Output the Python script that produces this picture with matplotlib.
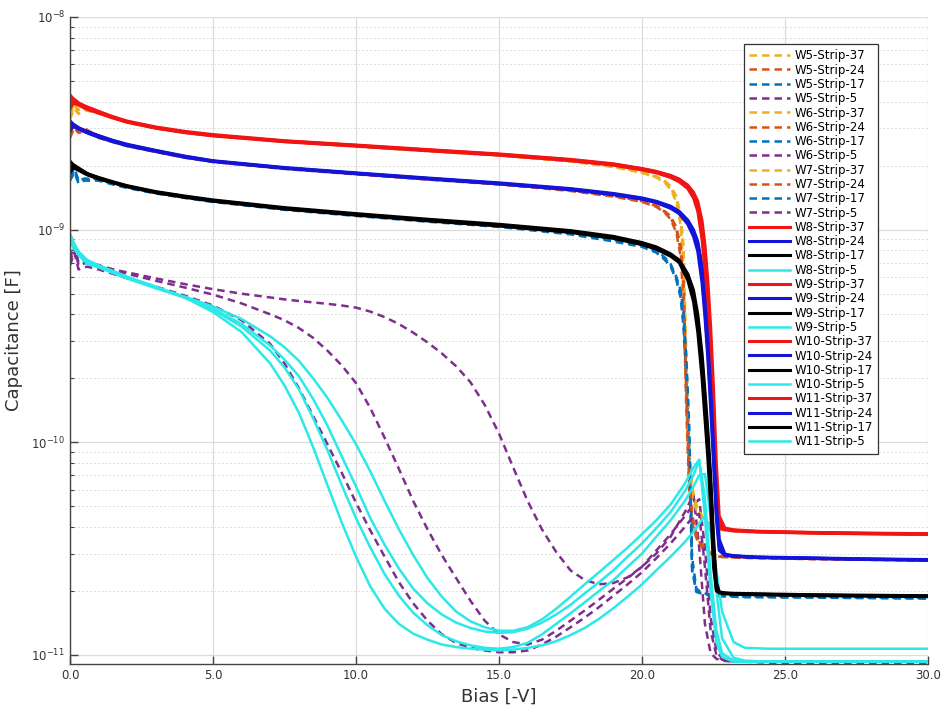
import matplotlib
matplotlib.use("Agg")
import matplotlib.pyplot as plt
from matplotlib.ticker import FixedLocator, NullFormatter, LogFormatterSciNotation

# ---------------- data ----------------
# Solid curves W8..W11, strips 37/24/17
X_HI = [0, 0.1, 0.3, 0.6, 1, 1.5, 2, 3, 4, 5, 7.5, 10, 12.5, 15, 17.5, 19, 20, 20.5, 21, 21.3,
        21.6, 21.8, 21.95, 22.1, 22.2, 22.3, 22.4, 22.5, 22.6, 22.7, 22.9, 23.2, 24, 26, 28, 30]

W8_S37 = [4.3e-9, 4.15e-9, 3.95e-9, 3.75e-9, 3.58e-9, 3.38e-9, 3.22e-9, 3.02e-9, 2.88e-9, 2.78e-9,
          2.6e-9, 2.48e-9, 2.36e-9, 2.25e-9, 2.12e-9, 2.02e-9, 1.92e-9, 1.86e-9, 1.77e-9, 1.7e-9,
          1.58e-9, 1.44e-9, 1.27e-9, 9.5e-10, 7.0e-10, 4.4e-10, 2.5e-10, 1.25e-10, 4.8e-11, 4.0e-11,
          3.9e-11, 3.85e-11, 3.8e-11, 3.75e-11, 3.72e-11, 3.7e-11]
W9_S37 = [3.7e-9, 3.9e-9, 3.92e-9, 3.78e-9, 3.6e-9, 3.4e-9, 3.24e-9, 3.04e-9, 2.9e-9, 2.8e-9,
          2.62e-9, 2.5e-9, 2.38e-9, 2.27e-9, 2.14e-9, 2.04e-9, 1.94e-9, 1.88e-9, 1.8e-9, 1.73e-9,
          1.62e-9, 1.5e-9, 1.36e-9, 1.1e-9, 8.5e-10, 5.8e-10, 3.5e-10, 1.8e-10, 8e-11, 4.5e-11,
          3.95e-11, 3.88e-11, 3.82e-11, 3.77e-11, 3.74e-11, 3.72e-11]
W10_S37 = [4.15e-9, 4.0e-9, 3.85e-9, 3.68e-9, 3.53e-9, 3.35e-9, 3.2e-9, 3.0e-9, 2.86e-9, 2.76e-9,
           2.59e-9, 2.47e-9, 2.35e-9, 2.24e-9, 2.11e-9, 2.01e-9, 1.91e-9, 1.85e-9, 1.76e-9, 1.68e-9,
           1.56e-9, 1.41e-9, 1.22e-9, 9.0e-10, 6.5e-10, 4.0e-10, 2.2e-10, 1.1e-10, 4.6e-11, 3.95e-11,
           3.88e-11, 3.83e-11, 3.79e-11, 3.74e-11, 3.71e-11, 3.69e-11]
W11_S37 = [3.85e-9, 3.95e-9, 3.9e-9, 3.72e-9, 3.56e-9, 3.37e-9, 3.21e-9, 3.01e-9, 2.87e-9, 2.77e-9,
           2.61e-9, 2.49e-9, 2.37e-9, 2.26e-9, 2.13e-9, 2.03e-9, 1.93e-9, 1.87e-9, 1.79e-9, 1.72e-9,
           1.6e-9, 1.47e-9, 1.32e-9, 1.02e-9, 7.8e-10, 5.1e-10, 3.0e-10, 1.5e-10, 6e-11, 4.2e-11,
           3.92e-11, 3.86e-11, 3.81e-11, 3.76e-11, 3.73e-11, 3.71e-11]

W8_S24 = [3.25e-9, 3.15e-9, 3.02e-9, 2.88e-9, 2.75e-9, 2.61e-9, 2.5e-9, 2.34e-9, 2.2e-9, 2.1e-9,
          1.95e-9, 1.84e-9, 1.74e-9, 1.65e-9, 1.55e-9, 1.47e-9, 1.4e-9, 1.35e-9, 1.27e-9, 1.2e-9,
          1.08e-9, 9.6e-10, 8.3e-10, 6.0e-10, 4.2e-10, 2.7e-10, 1.6e-10, 9.0e-11, 4.8e-11, 3.2e-11,
          2.96e-11, 2.92e-11, 2.88e-11, 2.85e-11, 2.82e-11, 2.8e-11]
W9_S24 = [2.9e-9, 3.1e-9, 3.0e-9, 2.9e-9, 2.77e-9, 2.63e-9, 2.52e-9, 2.36e-9, 2.22e-9, 2.11e-9,
          1.96e-9, 1.85e-9, 1.75e-9, 1.66e-9, 1.56e-9, 1.48e-9, 1.41e-9, 1.36e-9, 1.29e-9, 1.22e-9,
          1.11e-9, 1.0e-9, 8.8e-10, 6.8e-10, 5.0e-10, 3.3e-10, 2.0e-10, 1.1e-10, 5.8e-11, 3.5e-11,
          2.98e-11, 2.93e-11, 2.89e-11, 2.86e-11, 2.83e-11, 2.81e-11]
W10_S24 = [3.15e-9, 3.07e-9, 2.97e-9, 2.85e-9, 2.72e-9, 2.59e-9, 2.48e-9, 2.33e-9, 2.19e-9, 2.09e-9,
           1.94e-9, 1.83e-9, 1.73e-9, 1.64e-9, 1.54e-9, 1.46e-9, 1.39e-9, 1.34e-9, 1.26e-9, 1.19e-9,
           1.06e-9, 9.3e-10, 7.9e-10, 5.6e-10, 3.9e-10, 2.5e-10, 1.45e-10, 8.0e-11, 4.4e-11, 3.1e-11,
           2.94e-11, 2.91e-11, 2.87e-11, 2.84e-11, 2.81e-11, 2.79e-11]
W11_S24 = [3.0e-9, 3.08e-9, 3.0e-9, 2.88e-9, 2.76e-9, 2.62e-9, 2.51e-9, 2.35e-9, 2.21e-9, 2.1e-9,
           1.95e-9, 1.84e-9, 1.74e-9, 1.65e-9, 1.55e-9, 1.47e-9, 1.4e-9, 1.35e-9, 1.28e-9, 1.21e-9,
           1.1e-9, 9.8e-10, 8.6e-10, 6.4e-10, 4.6e-10, 3.0e-10, 1.8e-10, 1.0e-10, 5.2e-11, 3.3e-11,
           2.96e-11, 2.92e-11, 2.88e-11, 2.85e-11, 2.82e-11, 2.8e-11]

W8_S17 = [2.1e-9, 2.03e-9, 1.95e-9, 1.84e-9, 1.75e-9, 1.67e-9, 1.6e-9, 1.5e-9, 1.43e-9, 1.37e-9,
          1.26e-9, 1.18e-9, 1.11e-9, 1.05e-9, 9.8e-10, 9.2e-10, 8.6e-10, 8.2e-10, 7.6e-10, 7.1e-10,
          6.0e-10, 4.9e-10, 3.6e-10, 2.2e-10, 1.45e-10, 9.5e-11, 5.8e-11, 3.0e-11, 2.05e-11, 1.97e-11,
          1.95e-11, 1.94e-11, 1.93e-11, 1.91e-11, 1.9e-11, 1.89e-11]
W9_S17 = [1.85e-9, 1.95e-9, 1.93e-9, 1.83e-9, 1.76e-9, 1.68e-9, 1.61e-9, 1.51e-9, 1.44e-9, 1.38e-9,
          1.27e-9, 1.19e-9, 1.12e-9, 1.06e-9, 9.9e-10, 9.3e-10, 8.7e-10, 8.3e-10, 7.7e-10, 7.2e-10,
          6.2e-10, 5.2e-10, 4.0e-10, 2.6e-10, 1.75e-10, 1.15e-10, 7e-11, 3.6e-11, 2.2e-11, 1.98e-11,
          1.96e-11, 1.95e-11, 1.94e-11, 1.92e-11, 1.91e-11, 1.9e-11]
W10_S17 = [2.0e-9, 1.96e-9, 1.9e-9, 1.81e-9, 1.73e-9, 1.66e-9, 1.59e-9, 1.49e-9, 1.42e-9, 1.36e-9,
           1.25e-9, 1.17e-9, 1.1e-9, 1.04e-9, 9.7e-10, 9.1e-10, 8.5e-10, 8.1e-10, 7.5e-10, 7.0e-10,
           5.8e-10, 4.6e-10, 3.3e-10, 2.0e-10, 1.3e-10, 8.5e-11, 5.0e-11, 2.6e-11, 2.0e-11, 1.96e-11,
           1.94e-11, 1.93e-11, 1.92e-11, 1.9e-11, 1.89e-11, 1.88e-11]
W11_S17 = [1.9e-9, 1.97e-9, 1.93e-9, 1.83e-9, 1.75e-9, 1.67e-9, 1.6e-9, 1.5e-9, 1.43e-9, 1.37e-9,
           1.26e-9, 1.18e-9, 1.11e-9, 1.05e-9, 9.8e-10, 9.2e-10, 8.6e-10, 8.2e-10, 7.6e-10, 7.1e-10,
           6.1e-10, 5.0e-10, 3.8e-10, 2.4e-10, 1.6e-10, 1.05e-10, 6.4e-11, 3.3e-11, 2.1e-11, 1.97e-11,
           1.95e-11, 1.94e-11, 1.93e-11, 1.91e-11, 1.9e-11, 1.89e-11]

# Dashed curves W5..W7, strips 37/24/17
X_DASH = [0, 0.15, 0.3, 0.5, 1, 1.5, 2, 3, 4, 5, 7.5, 10, 12.5, 15, 17.5, 19, 20, 20.5, 20.8, 21.0,
          21.2, 21.35, 21.45, 21.55, 21.65, 21.75, 21.9, 22.1, 22.4, 22.7, 23.5, 26, 30]

W5_S37 = [3.4e-9, 3.85e-9, 3.6e-9, 3.72e-9, 3.56e-9, 3.37e-9, 3.21e-9, 3.01e-9, 2.87e-9, 2.77e-9,
          2.6e-9, 2.47e-9, 2.35e-9, 2.24e-9, 2.1e-9, 1.98e-9, 1.86e-9, 1.77e-9, 1.68e-9, 1.58e-9,
          1.4e-9, 1.12e-9, 7.5e-10, 2.0e-10, 8.5e-11, 5.8e-11, 5.0e-11, 4.4e-11, 4.05e-11, 3.9e-11,
          3.8e-11, 3.75e-11, 3.7e-11]
W6_S37 = [3.3e-9, 3.7e-9, 3.5e-9, 3.65e-9, 3.52e-9, 3.35e-9, 3.19e-9, 2.99e-9, 2.86e-9, 2.76e-9,
          2.59e-9, 2.46e-9, 2.34e-9, 2.23e-9, 2.09e-9, 1.97e-9, 1.85e-9, 1.76e-9, 1.66e-9, 1.55e-9,
          1.35e-9, 1.05e-9, 6.5e-10, 1.7e-10, 7.5e-11, 5.6e-11, 4.8e-11, 4.3e-11, 4.0e-11, 3.88e-11,
          3.79e-11, 3.74e-11, 3.69e-11]
W7_S37 = [3.5e-9, 3.9e-9, 3.65e-9, 3.78e-9, 3.58e-9, 3.39e-9, 3.22e-9, 3.02e-9, 2.88e-9, 2.78e-9,
          2.61e-9, 2.48e-9, 2.36e-9, 2.25e-9, 2.11e-9, 1.99e-9, 1.87e-9, 1.78e-9, 1.7e-9, 1.6e-9,
          1.44e-9, 1.18e-9, 8.5e-10, 2.6e-10, 1.0e-10, 6.2e-11, 5.1e-11, 4.5e-11, 4.1e-11, 3.92e-11,
          3.81e-11, 3.76e-11, 3.71e-11]

W5_S24 = [2.75e-9, 3.1e-9, 2.9e-9, 2.95e-9, 2.72e-9, 2.6e-9, 2.48e-9, 2.33e-9, 2.19e-9, 2.09e-9,
          1.94e-9, 1.83e-9, 1.73e-9, 1.64e-9, 1.53e-9, 1.44e-9, 1.36e-9, 1.29e-9, 1.21e-9, 1.14e-9,
          1.0e-9, 8.0e-10, 5.3e-10, 1.6e-10, 6.5e-11, 4.4e-11, 3.6e-11, 3.25e-11, 3.0e-11, 2.9e-11,
          2.87e-11, 2.83e-11, 2.78e-11]
W6_S24 = [2.7e-9, 3.0e-9, 2.85e-9, 2.9e-9, 2.7e-9, 2.58e-9, 2.47e-9, 2.32e-9, 2.18e-9, 2.08e-9,
          1.93e-9, 1.82e-9, 1.72e-9, 1.63e-9, 1.52e-9, 1.43e-9, 1.35e-9, 1.28e-9, 1.2e-9, 1.12e-9,
          9.7e-10, 7.5e-10, 4.7e-10, 1.4e-10, 6.0e-11, 4.2e-11, 3.55e-11, 3.2e-11, 2.98e-11, 2.89e-11,
          2.86e-11, 2.82e-11, 2.78e-11]
W7_S24 = [2.85e-9, 3.15e-9, 2.95e-9, 3.0e-9, 2.74e-9, 2.62e-9, 2.49e-9, 2.34e-9, 2.2e-9, 2.1e-9,
          1.95e-9, 1.84e-9, 1.74e-9, 1.65e-9, 1.54e-9, 1.45e-9, 1.37e-9, 1.3e-9, 1.22e-9, 1.16e-9,
          1.03e-9, 8.4e-10, 5.8e-10, 1.9e-10, 7.2e-11, 4.6e-11, 3.7e-11, 3.3e-11, 3.02e-11, 2.91e-11,
          2.88e-11, 2.84e-11, 2.79e-11]

W5_S17 = [1.75e-9, 1.9e-9, 1.68e-9, 1.72e-9, 1.72e-9, 1.64e-9, 1.58e-9, 1.49e-9, 1.42e-9, 1.36e-9,
          1.25e-9, 1.17e-9, 1.1e-9, 1.04e-9, 9.6e-10, 8.9e-10, 8.4e-10, 7.9e-10, 7.3e-10, 6.8e-10,
          5.9e-10, 5.0e-10, 3.8e-10, 2.2e-10, 1.05e-10, 2.6e-11, 2.0e-11, 1.95e-11, 1.92e-11, 1.9e-11,
          1.88e-11, 1.87e-11, 1.85e-11]
W6_S17 = [1.7e-9, 1.85e-9, 1.65e-9, 1.7e-9, 1.7e-9, 1.63e-9, 1.57e-9, 1.48e-9, 1.41e-9, 1.35e-9,
          1.24e-9, 1.16e-9, 1.09e-9, 1.03e-9, 9.5e-10, 8.8e-10, 8.3e-10, 7.8e-10, 7.2e-10, 6.7e-10,
          5.8e-10, 4.8e-10, 3.5e-10, 2.0e-10, 9.5e-11, 2.5e-11, 1.98e-11, 1.94e-11, 1.91e-11, 1.89e-11,
          1.87e-11, 1.86e-11, 1.84e-11]
W7_S17 = [1.8e-9, 1.95e-9, 1.7e-9, 1.74e-9, 1.73e-9, 1.65e-9, 1.59e-9, 1.5e-9, 1.43e-9, 1.37e-9,
          1.26e-9, 1.18e-9, 1.11e-9, 1.05e-9, 9.7e-10, 9.0e-10, 8.5e-10, 8.0e-10, 7.4e-10, 6.9e-10,
          6.0e-10, 5.2e-10, 4.1e-10, 2.5e-10, 1.2e-10, 2.9e-11, 2.05e-11, 1.96e-11, 1.92e-11, 1.91e-11,
          1.89e-11, 1.88e-11, 1.86e-11]

# Strip-5 curves (dashed W5..W7, solid W8..W11)
X_S5 = [0, 0.15, 0.3, 0.6, 1, 1.5, 2, 3, 4, 5, 6, 7, 7.5, 8, 8.5, 9, 9.5, 10, 10.5, 11,
        11.5, 12, 12.5, 13, 13.5, 14, 14.5, 15, 15.5, 16, 16.5, 17, 17.5, 18, 18.5, 19, 19.5, 20, 20.5, 21,
        21.5, 21.8, 22.0, 22.2, 22.4, 22.6, 22.8, 23.2, 23.6, 24.5, 30]

W5_S5 = [7.0e-10, 8.2e-10, 6.8e-10, 7.0e-10, 6.8e-10, 6.5e-10, 6.3e-10, 5.9e-10, 5.55e-10, 5.25e-10,
         5.0e-10, 4.8e-10, 4.7e-10, 4.62e-10, 4.55e-10, 4.48e-10, 4.4e-10, 4.3e-10, 4.12e-10, 3.88e-10,
         3.6e-10, 3.28e-10, 2.95e-10, 2.62e-10, 2.28e-10, 1.92e-10, 1.5e-10, 1.1e-10, 7.6e-11, 5.3e-11,
         3.9e-11, 3.05e-11, 2.5e-11, 2.25e-11, 2.15e-11, 2.18e-11, 2.32e-11, 2.6e-11, 3.0e-11, 3.6e-11,
         4.7e-11, 5.7e-11, 3.2e-11, 1.4e-11, 1.02e-11, 9.6e-12, 9.4e-12, 9.3e-12, 9.3e-12, 9.3e-12,
         9.3e-12]
W6_S5 = [7.3e-10, 8.5e-10, 7.0e-10, 7.1e-10, 6.8e-10, 6.5e-10, 6.2e-10, 5.75e-10, 5.35e-10, 4.95e-10,
         4.5e-10, 4.0e-10, 3.75e-10, 3.45e-10, 3.1e-10, 2.7e-10, 2.3e-10, 1.9e-10, 1.45e-10, 1.05e-10,
         7.5e-11, 5.3e-11, 3.9e-11, 2.95e-11, 2.3e-11, 1.8e-11, 1.45e-11, 1.25e-11, 1.15e-11, 1.12e-11,
         1.18e-11, 1.3e-11, 1.45e-11, 1.62e-11, 1.82e-11, 2.05e-11, 2.3e-11, 2.6e-11, 3.1e-11, 3.7e-11,
         4.5e-11, 5.1e-11, 5.4e-11, 3.2e-11, 1.5e-11, 1.05e-11, 9.6e-12, 9.4e-12, 9.3e-12, 9.3e-12,
         9.3e-12]
W7_S5 = [6.8e-10, 7.8e-10, 6.5e-10, 6.7e-10, 6.5e-10, 6.2e-10, 5.9e-10, 5.4e-10, 4.9e-10, 4.4e-10,
         3.75e-10, 2.9e-10, 2.35e-10, 1.8e-10, 1.33e-10, 9.8e-11, 7.2e-11, 5.2e-11, 3.85e-11, 2.9e-11,
         2.2e-11, 1.75e-11, 1.45e-11, 1.25e-11, 1.14e-11, 1.08e-11, 1.05e-11, 1.03e-11, 1.03e-11, 1.05e-11,
         1.12e-11, 1.22e-11, 1.35e-11, 1.5e-11, 1.68e-11, 1.9e-11, 2.15e-11, 2.45e-11, 2.85e-11, 3.35e-11,
         4.0e-11, 4.5e-11, 4.6e-11, 2.6e-11, 1.3e-11, 1.0e-11, 9.5e-12, 9.3e-12, 9.3e-12, 9.2e-12,
         9.2e-12]

W8_S5 = [9.6e-10, 8.6e-10, 7.9e-10, 7.2e-10, 6.8e-10, 6.4e-10, 6.0e-10, 5.4e-10, 4.8e-10, 4.1e-10,
         3.3e-10, 2.35e-10, 1.85e-10, 1.38e-10, 9.5e-11, 6.3e-11, 4.2e-11, 2.9e-11, 2.1e-11, 1.65e-11,
         1.4e-11, 1.26e-11, 1.18e-11, 1.12e-11, 1.09e-11, 1.07e-11, 1.06e-11, 1.05e-11, 1.06e-11, 1.08e-11,
         1.11e-11, 1.16e-11, 1.24e-11, 1.34e-11, 1.48e-11, 1.66e-11, 1.88e-11, 2.15e-11, 2.5e-11, 2.9e-11,
         3.4e-11, 3.8e-11, 4.15e-11, 4.5e-11, 3.8e-11, 2.5e-11, 1.6e-11, 1.15e-11, 1.08e-11, 1.07e-11,
         1.07e-11]
W9_S5 = [9.3e-10, 8.4e-10, 7.8e-10, 7.1e-10, 6.75e-10, 6.35e-10, 5.95e-10, 5.35e-10, 4.8e-10, 4.2e-10,
         3.5e-10, 2.7e-10, 2.25e-10, 1.78e-10, 1.3e-10, 9.2e-11, 6.3e-11, 4.4e-11, 3.2e-11, 2.4e-11,
         1.9e-11, 1.58e-11, 1.38e-11, 1.24e-11, 1.16e-11, 1.11e-11, 1.08e-11, 1.07e-11, 1.09e-11, 1.14e-11,
         1.25e-11, 1.4e-11, 1.57e-11, 1.77e-11, 2.0e-11, 2.25e-11, 2.6e-11, 3.0e-11, 3.6e-11, 4.3e-11,
         5.3e-11, 6.2e-11, 7.0e-11, 7.1e-11, 4.5e-11, 2.0e-11, 1.2e-11, 9.7e-12, 9.4e-12, 9.3e-12,
         9.3e-12]
W10_S5 = [9.0e-10, 8.2e-10, 7.7e-10, 7.0e-10, 6.7e-10, 6.3e-10, 5.9e-10, 5.3e-10, 4.8e-10, 4.25e-10,
          3.6e-10, 2.85e-10, 2.45e-10, 2.05e-10, 1.6e-10, 1.2e-10, 8.6e-11, 6.2e-11, 4.4e-11, 3.3e-11,
          2.55e-11, 2.05e-11, 1.75e-11, 1.55e-11, 1.42e-11, 1.34e-11, 1.29e-11, 1.27e-11, 1.28e-11, 1.33e-11,
          1.42e-11, 1.55e-11, 1.72e-11, 1.95e-11, 2.2e-11, 2.5e-11, 2.9e-11, 3.35e-11, 3.95e-11, 4.7e-11,
          5.9e-11, 7.0e-11, 8.2e-11, 5.5e-11, 2.4e-11, 1.3e-11, 1.02e-11, 9.4e-12, 9.3e-12, 9.3e-12,
          9.3e-12]
W11_S5 = [8.8e-10, 8.1e-10, 7.6e-10, 6.9e-10, 6.65e-10, 6.25e-10, 5.9e-10, 5.35e-10, 4.85e-10, 4.35e-10,
          3.8e-10, 3.15e-10, 2.8e-10, 2.42e-10, 2.0e-10, 1.62e-10, 1.27e-10, 9.8e-11, 7.3e-11, 5.3e-11,
          3.9e-11, 2.95e-11, 2.3e-11, 1.88e-11, 1.6e-11, 1.44e-11, 1.35e-11, 1.3e-11, 1.3e-11, 1.35e-11,
          1.47e-11, 1.65e-11, 1.88e-11, 2.15e-11, 2.45e-11, 2.8e-11, 3.2e-11, 3.7e-11, 4.3e-11, 5.1e-11,
          6.4e-11, 7.6e-11, 8.3e-11, 4.5e-11, 2.0e-11, 1.15e-11, 9.8e-12, 9.3e-12, 9.3e-12, 9.3e-12,
          9.3e-12]

X_TICKS = [0, 5, 10, 15, 20, 25, 30]
X_TICK_LABELS = ["0.0", "5.0", "10.0", "15.0", "20.0", "25.0", "30.0"]
Y_TICKS = [1e-11, 1e-10, 1e-9, 1e-8]

# ---------------- styling ----------------
DASH_COLORS = {"37": "#EDB120", "24": "#D95319", "17": "#0072BD", "5": "#7E2F8E"}
SOLID_COLORS = {"37": "#F01414", "24": "#1414D8", "17": "#000000", "5": "#2CE8E8"}

dashed = [
    ("W5", [W5_S37, W5_S24, W5_S17], W5_S5),
    ("W6", [W6_S37, W6_S24, W6_S17], W6_S5),
    ("W7", [W7_S37, W7_S24, W7_S17], W7_S5),
]
solid = [
    ("W8", [W8_S37, W8_S24, W8_S17], W8_S5),
    ("W9", [W9_S37, W9_S24, W9_S17], W9_S5),
    ("W10", [W10_S37, W10_S24, W10_S17], W10_S5),
    ("W11", [W11_S37, W11_S24, W11_S17], W11_S5),
]
strips = ["37", "24", "17"]

fig = plt.figure(figsize=(9.42, 7.11), dpi=100)
ax = fig.add_axes([70 / 942, 1 - 664 / 711, (928 - 70) / 942, (664 - 17) / 711])

dash_style = (0, (3.0, 2.0))
for wafer, hi, s5 in dashed:
    for s, ys in zip(strips, hi):
        ax.plot(X_DASH, ys, linestyle=dash_style, color=DASH_COLORS[s], lw=1.8,
                label=f"{wafer}-Strip-{s}")
    ax.plot(X_S5, s5, linestyle=dash_style, color=DASH_COLORS["5"], lw=1.8,
            label=f"{wafer}-Strip-5")

for wafer, hi, s5 in solid:
    for s, ys in zip(strips, hi):
        ax.plot(X_HI, ys, '-', color=SOLID_COLORS[s], lw=2.2, label=f"{wafer}-Strip-{s}")
    ax.plot(X_S5, s5, '-', color=SOLID_COLORS["5"], lw=1.8, label=f"{wafer}-Strip-5")

ax.set_yscale('log')
ax.set_xlim(0, 30)
ax.set_ylim(9.07e-12, 1e-8)
ax.xaxis.set_major_locator(FixedLocator(X_TICKS))
ax.set_xticklabels(X_TICK_LABELS)
ax.yaxis.set_major_locator(FixedLocator(Y_TICKS))
ax.yaxis.set_major_formatter(LogFormatterSciNotation())
minor_y = [k * d for d in [1e-11, 1e-10, 1e-9] for k in range(2, 10)]
ax.yaxis.set_minor_locator(FixedLocator(minor_y))
ax.yaxis.set_minor_formatter(NullFormatter())

ax.grid(True, which='major', color='#dcdcdc', lw=0.9, ls='-')
ax.grid(True, which='minor', axis='y', color='#dcdcdc', lw=0.7, ls=(0, (2, 2)))
ax.set_axisbelow(True)

for sp in ['top', 'right']:
    ax.spines[sp].set_visible(False)
for sp in ['left', 'bottom']:
    ax.spines[sp].set_color('#444444')
    ax.spines[sp].set_linewidth(1.0)

ax.tick_params(which='major', direction='in', length=6, width=1.0, color='#444444',
               labelsize=8.5, labelcolor='#333333')
ax.tick_params(which='minor', direction='in', length=3, width=0.8, color='#444444')
ax.tick_params(axis='x', which='minor', bottom=False)

ax.set_xlabel("Bias [-V]", fontsize=13, color='#333333', labelpad=4)
ax.set_ylabel("Capacitance [F]", fontsize=13, color='#333333', labelpad=6)

leg = ax.legend(loc='upper right', bbox_to_anchor=((878 - 70) / 858, 1 - (44 - 17) / 647),
                borderaxespad=0, fontsize=8.5, labelspacing=0.11, handlelength=3.4,
                handletextpad=0.4, borderpad=0.45, fancybox=False, framealpha=1,
                edgecolor='#333333')
leg.get_frame().set_linewidth(0.9)

fig.savefig("out.png", dpi=100)
